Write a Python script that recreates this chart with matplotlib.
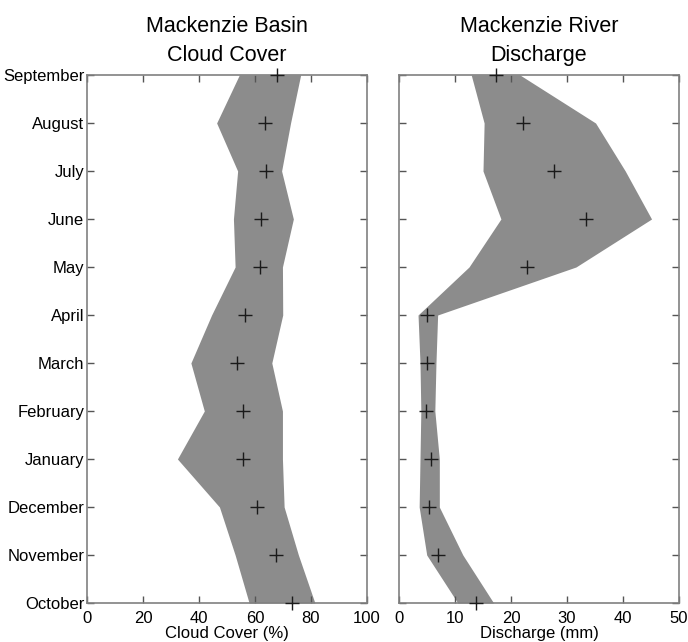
import matplotlib
matplotlib.use('Agg')
import matplotlib.pyplot as plt
import numpy as np

plt.rcParams['font.family'] = ['Liberation Sans', 'DejaVu Sans']

# Months from bottom (October) to top (September)
months = ['October', 'November', 'December', 'January', 'February', 'March',
          'April', 'May', 'June', 'July', 'August', 'September']

# Cloud cover (%) - shaded range and mean
cloud_lo = [57.9, 52.9, 47.3, 32.3, 41.9, 37.1, 44.5, 52.9, 52.3, 53.8, 46.3, 54.4]
cloud_hi = [81.4, 75.5, 70.4, 69.8, 69.8, 66.0, 69.9, 69.8, 73.7, 69.5, 72.7, 76.3]
cloud_mean = [73.2, 67.4, 60.7, 55.8, 55.6, 53.7, 56.4, 61.8, 62.1, 64.0, 63.6, 67.7]

# Discharge (mm) - shaded range and mean
dis_lo = [10.5, 4.95, 3.6, 3.75, 3.9, 3.75, 3.4, 12.5, 18.2, 15.0, 15.2, 12.9]
dis_hi = [16.9, 11.4, 7.2, 7.2, 6.4, 6.6, 6.9, 31.6, 45.1, 40.4, 35.1, 21.6]
dis_mean = [13.7, 6.9, 5.4, 5.8, 4.9, 5.0, 5.0, 22.9, 33.4, 27.7, 22.1, 17.3]

FILL = '#8c8c8c'
FRAME = '#808080'

fig = plt.figure(figsize=(6.88, 6.42), dpi=100)
ax1 = fig.add_axes([87/688, 39/642, 280/688, 528/642])
ax2 = fig.add_axes([399/688, 39/642, 280/688, 528/642])

y = np.arange(len(months))

def style(ax, xmax, xticks, xlabel, title, show_months):
    ax.set_xlim(0, xmax)
    ax.set_ylim(0, len(months) - 1)
    ax.set_xticks(xticks)
    ax.set_yticks(y)
    if show_months:
        ax.set_yticklabels(months, fontsize=12)
    else:
        ax.set_yticklabels([])
    ax.tick_params(direction='in', top=True, right=True, length=5,
                   width=1.0, labelsize=12, color='#555555')
    ax.tick_params(axis='x', pad=6)
    ax.tick_params(axis='y', pad=2)
    for s in ax.spines.values():
        s.set_color(FRAME)
        s.set_linewidth(1.2)
    ax.set_xlabel(xlabel, fontsize=12, labelpad=0)
    ax.set_title(title, fontsize=15.5, pad=10, linespacing=1.5)

ax1.fill_betweenx(y, cloud_lo, cloud_hi, color=FILL, lw=0)
ax1.plot(cloud_mean, y, '+', color='#1a1a1a', ms=10, mew=1.0, clip_on=False, zorder=5)
style(ax1, 100, [0, 20, 40, 60, 80, 100], 'Cloud Cover (%)',
      'Mackenzie Basin\nCloud Cover', True)

ax2.fill_betweenx(y, dis_lo, dis_hi, color=FILL, lw=0)
ax2.plot(dis_mean, y, '+', color='#1a1a1a', ms=10, mew=1.0, clip_on=False, zorder=5)
style(ax2, 50, [0, 10, 20, 30, 40, 50], 'Discharge (mm)',
      'Mackenzie River\nDischarge', False)

fig.savefig('out.png', dpi=100)
